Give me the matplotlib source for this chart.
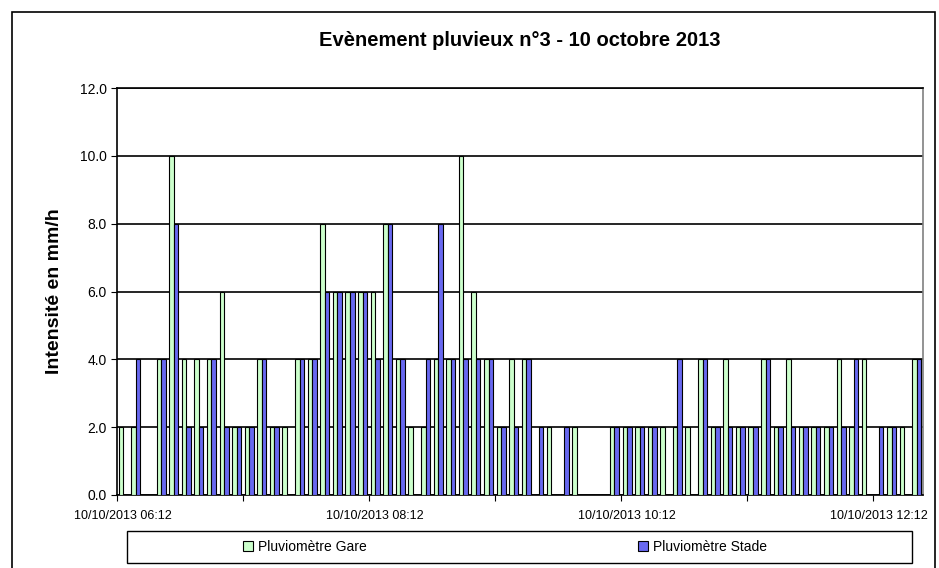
import matplotlib
matplotlib.use("Agg")
import matplotlib.pyplot as plt
import numpy as np
from matplotlib.patches import Rectangle, Patch

plt.rcParams['font.family'] = ['Liberation Sans', 'DejaVu Sans']

# 6-minute steps from 10/10/2013 06:12, intensities in mm/h
gare = [2, 2, 0, 4, 10, 4, 4, 4, 6, 2, 2, 4, 2, 2, 4, 4, 8, 6, 6, 6, 6, 8,
        4, 2, 2, 4, 4, 10, 6, 4, 2, 4, 4, 0, 2, 0, 2, 0, 0, 2, 2, 2, 2, 2,
        2, 2, 4, 2, 4, 2, 2, 4, 2, 4, 2, 2, 2, 4, 2, 4, 0, 2, 2, 4]
stade = [0, 4, 0, 4, 8, 2, 2, 4, 2, 2, 2, 4, 2, 0, 4, 4, 6, 6, 6, 6, 4, 8,
         4, 0, 4, 8, 4, 4, 4, 4, 2, 2, 4, 2, 0, 2, 0, 0, 0, 2, 2, 2, 2, 0,
         4, 0, 4, 2, 2, 2, 2, 4, 2, 2, 2, 2, 2, 2, 4, 0, 2, 2, 0, 4]
tick_labels = ["10/10/2013 06:12", "10/10/2013 08:12",
               "10/10/2013 10:12", "10/10/2013 12:12"]
label_pos = [0, 20, 40, 60]
series_names = ["Pluviomètre Gare", "Pluviomètre Stade"]

green = '#CCFFCC'
blue = '#6868F0'

fig = plt.figure(figsize=(9.39, 5.68), dpi=100)
ax = fig.add_axes([117 / 939, 1 - 495 / 568, (923 - 117) / 939, (495 - 88) / 568])

x = np.arange(len(gare))
w = 0.36
ax.bar(x + 0.5 - w / 2, gare, width=w, color=green, edgecolor='black', linewidth=0.8, zorder=3)
ax.bar(x + 0.5 + w / 2, stade, width=w, color=blue, edgecolor='black', linewidth=0.8, zorder=3)

ax.set_xlim(0, len(gare))
ax.set_ylim(0, 12)
ax.set_yticks(np.arange(0, 12.1, 2))
ax.set_yticklabels([f"{v:.1f}" for v in np.arange(0, 12.1, 2)], fontsize=10)
ax.yaxis.grid(True, color='black', linewidth=1.2, zorder=0)
ax.set_axisbelow(True)

# tick marks every hour, labels every two hours
ax.set_xticks(np.arange(0, len(gare) + 1, 10))
ax.set_xticklabels([])
ax.set_xticks([p + 0.5 for p in label_pos], minor=True)
ax.set_xticklabels(tick_labels, minor=True, fontsize=9)
ax.tick_params(axis='x', which='minor', length=0, pad=11)
ax.tick_params(axis='x', which='major', length=4, direction='out')
ax.tick_params(axis='y', length=4, direction='out')
for s in ax.spines.values():
    s.set_linewidth(1.2)
ax.spines['right'].set_color('#808080')

ax.set_ylabel("Intensité en mm/h", fontsize=14, fontweight='bold', labelpad=12)
fig.text(520 / 939, 1 - 41 / 568, "Evènement pluvieux n°3 - 10 octobre 2013",
         ha='center', va='center', fontsize=14.5, fontweight='bold')

# outer chart border and legend frame
fig.patches.append(Rectangle((12 / 939, -0.01), (935 - 12) / 939, 1.01 - 12 / 568,
                             transform=fig.transFigure, fill=False, edgecolor='black', linewidth=1.2))
fig.patches.append(Rectangle((127 / 939, 1 - 563 / 568), (912 - 127) / 939, 32 / 568,
                             transform=fig.transFigure, fill=False, edgecolor='black', linewidth=1.0))

handles = [Patch(facecolor=green, edgecolor='black', linewidth=0.8),
           Patch(facecolor=blue, edgecolor='black', linewidth=0.8)]
fig.legend(handles, series_names, loc='center', bbox_to_anchor=(505 / 939, 1 - 547 / 568),
           ncol=2, frameon=False, fontsize=10, handlelength=0.7, handleheight=0.7,
           handletextpad=0.4, columnspacing=19.5)

fig.savefig("out.png", dpi=100)
